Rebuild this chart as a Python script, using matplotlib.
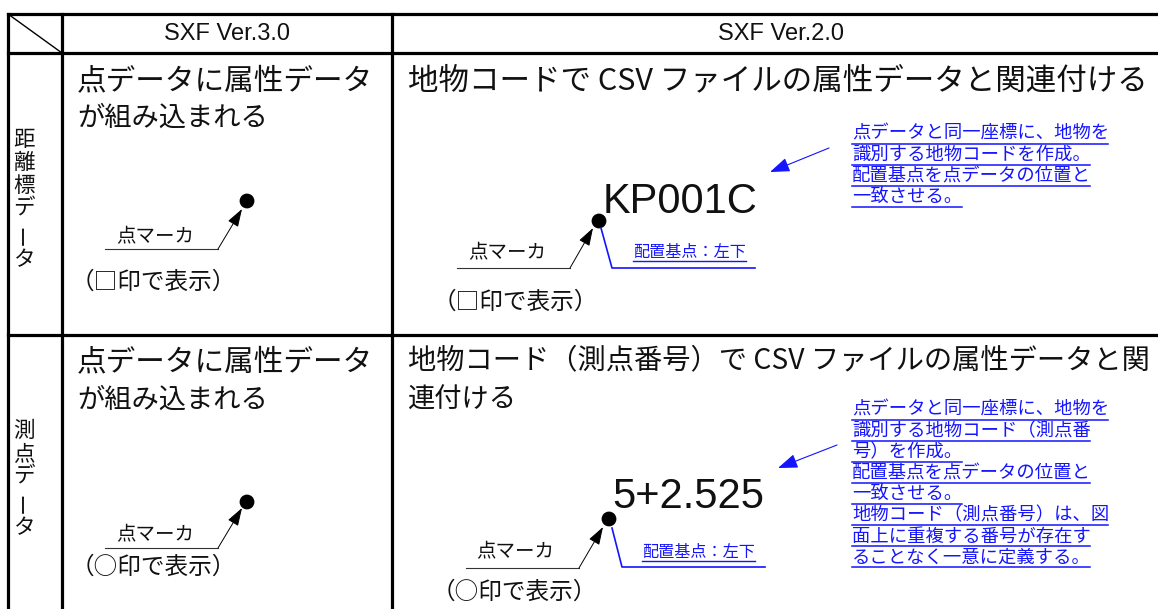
import matplotlib
matplotlib.use("Agg")
import matplotlib.pyplot as plt
from matplotlib.patches import Circle

JP = ['Noto Sans CJK JP', 'DejaVu Sans']
EN = ['Liberation Sans', 'DejaVu Sans']
BLUE = '#1414ff'

headers = ["SXF Ver.3.0", "SXF Ver.2.0"]
row_labels = ["距離標データ", "測点データ"]
v3_text = ["点データに属性データ", "が組み込まれる"]
v2_text = [["地物コードで CSV ファイルの属性データと関連付ける"],
           ["地物コード（測点番号）で CSV ファイルの属性データと関", "連付ける"]]
marker_label = "点マーカ"
marker_notes = ["（□印で表示）", "（○印で表示）"]
codes = ["KP001C", "5+2.525"]
anchor_label = "配置基点：左下"
notes = [["点データと同一座標に、地物を",
          "識別する地物コードを作成。",
          "配置基点を点データの位置と",
          "一致させる。"],
         ["点データと同一座標に、地物を",
          "識別する地物コード（測点番",
          "号）を作成。",
          "配置基点を点データの位置と",
          "一致させる。",
          "地物コード（測点番号）は、図",
          "面上に重複する番号が存在す",
          "ることなく一意に定義する。"]]

# layout of each row, in pixels of the 1158x609 picture
rows = [
    dict(label_y=140, v3_y=[81, 118], v3_x1=[373, 268],
         v2_y=[81], v2_x1=[1148],
         dot3=(247, 201), lead3=(105, 218, 249), tip3=(242, 209),
         mk3=(155, 237), note3=(153, 282),
         dot2=(599, 221), code=(603, 213), lead2=(457, 570, 268), tip2=(593, 228),
         mk2=(507, 253), note2=(515, 302),
         blue=[(601, 228), (612, 268), (755, 268)], anc=(633, 252),
         barrow=((829, 148), (770, 172)), notes_y=134),
    dict(label_y=431, v3_y=[362, 400], v3_x1=[373, 268],
         v2_y=[360, 400], v2_x1=[1150, 517],
         dot3=(247, 502), lead3=(105, 218, 548), tip3=(242, 508),
         mk3=(155, 535), note3=(153, 567),
         dot2=(609, 519), code=(612, 508), lead2=(466, 579, 568), tip2=(603, 527),
         mk2=(515, 552), note2=(514, 592),
         blue=[(612, 528), (622, 567), (765, 567)], anc=(642, 552),
         barrow=((837, 445), (778, 468)), notes_y=410),
]

fig = plt.figure(figsize=(11.58, 6.09), dpi=100)
ax = fig.add_axes([0, 0, 1, 1])
ax.set_xlim(0, 1158)
ax.set_ylim(609, 0)
ax.axis('off')
renderer = fig.canvas.get_renderer()


def fit(x0, x1, y, s, size, **kw):
    # stretch the font so the line spans x0..x1 like the justified original
    t = ax.text(x0, y, s, fontsize=size, ha='left', va='center', family=JP,
                color='#111111', **kw)
    w = t.get_window_extent(renderer).width
    t.set_fontsize(size * (x1 - x0) / w)
    return t


def leader(lead, tip, color='#333333'):
    x0, x1, y = lead
    ax.plot([x0, x1], [y, y], color=color, lw=0.8)
    ax.annotate('', xy=tip, xytext=(x1, y),
                arrowprops=dict(arrowstyle='-|>,head_length=1.0,head_width=0.33',
                                color='black', lw=0.7, shrinkA=0, shrinkB=0,
                                mutation_scale=11))


# table grid
lw = 2.3
ax.plot([8, 1158], [14, 14], color='black', lw=lw)
ax.plot([8, 1158], [53, 53], color='black', lw=lw)
ax.plot([8, 1158], [335, 335], color='black', lw=lw)
for x in (8, 62, 392):
    ax.plot([x, x], [14, 609], color='black', lw=lw)
ax.plot([8, 62], [14, 53], color='black', lw=1.0)

ax.text(227, 34, headers[0], ha='center', va='center', fontsize=17, family=EN, color='#111111')
ax.text(781, 34, headers[1], ha='center', va='center', fontsize=17, family=EN, color='#111111')

for i, r in enumerate(rows):
    # vertical row label
    y = r['label_y']
    for ch in row_labels[i]:
        rot = 90 if ch == 'ー' else 0
        step = 26 if ch == 'ー' else 23
        if ch == 'ー':
            y += 2
        ax.text(24, y, ch, ha='center', va='center', fontsize=15.5, family=JP,
                rotation=rot, color='#111111')
        y += step

    # SXF Ver.3.0 column
    for s, yy, x1 in zip(v3_text, r['v3_y'], r['v3_x1']):
        fit(77, x1, yy, s, 19)
    ax.add_patch(Circle(r['dot3'], 6.7, color='black'))
    leader(r['lead3'], r['tip3'])
    ax.text(*r['mk3'], marker_label, ha='center', va='center', fontsize=14,
            family=JP, color='#111111')
    ax.text(*r['note3'], marker_notes[i], ha='center', va='center', fontsize=17,
            family=JP, color='#111111')

    # SXF Ver.2.0 column
    for s, yy, x1 in zip(v2_text[i], r['v2_y'], r['v2_x1']):
        fit(408, x1, yy, s, 19)
    ax.add_patch(Circle(r['dot2'], 6.7, color='black'))
    ax.text(*r['code'], codes[i], ha='left', va='baseline', fontsize=30,
            family=EN, color='#111111')
    leader(r['lead2'], r['tip2'])
    ax.text(*r['mk2'], marker_label, ha='center', va='center', fontsize=14,
            family=JP, color='#111111')
    ax.text(*r['note2'], marker_notes[i], ha='center', va='center', fontsize=17,
            family=JP, color='#111111')

    # blue anchor annotation
    bx, by = zip(*r['blue'])
    ax.plot(bx, by, color=BLUE, lw=1.2)
    ax0, ay = r['anc']
    ax.text(ax0, ay, anchor_label, ha='left', va='center', fontsize=11.6,
            family=JP, color=BLUE)
    ax.plot([ax0, ax0 + 113], [ay + 8.5, ay + 8.5], color=BLUE, lw=1.0)

    # blue explanatory notes with arrow
    (sx, sy), tip = r['barrow']
    ax.annotate('', xy=tip, xytext=(sx, sy),
                arrowprops=dict(arrowstyle='-|>,head_length=1.1,head_width=0.4',
                                color=BLUE, lw=0.8, shrinkA=0, shrinkB=0,
                                mutation_scale=11))
    for k, s in enumerate(notes[i]):
        yy = r['notes_y'] + k * 21.1
        ax.text(852, yy, s, ha='left', va='center', fontsize=13.2, family=JP,
                color=BLUE)
        ax.plot([852, 852 + len(s) * 18.3], [yy + 9.5, yy + 9.5], color=BLUE, lw=1.1)

fig.savefig('out.png', dpi=100)
